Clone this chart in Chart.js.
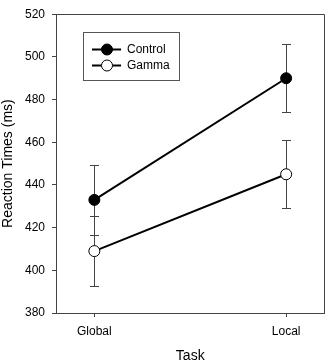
<!DOCTYPE html>
<html>
<head>
<meta charset="utf-8">
<script src="https://cdn.jsdelivr.net/npm/chart.js@4"></script>
<style>
html,body{margin:0;padding:0;background:#fff;}
#wrap{width:331px;height:362px;position:relative;}
</style>
</head>
<body>
<div id="wrap"><canvas id="c" width="331" height="362"></canvas></div>
<script>
const categories = ['Global', 'Local'];
const seriesNames = ['Control', 'Gamma'];
const controlMeans = [433, 490];
const controlErr = [16.5, 16];
const gammaMeans = [409, 445];
const gammaErr = [16.5, 16];
const yMin = 380, yMax = 520, yStep = 20;

const FONT = 'Liberation Sans, Arial, sans-serif';

function pts(means){ return means.map((v,i)=>({x:i, y:v})); }

const errorBars = {
  id:'errorBars',
  beforeDatasetsDraw(chart){
    const ctx = chart.ctx, xs = chart.scales.x, ys = chart.scales.y;
    const sets = [[controlMeans, controlErr],[gammaMeans, gammaErr]];
    ctx.save();
    ctx.strokeStyle = '#444';
    ctx.lineWidth = 1;
    sets.forEach(([m,e])=>{
      m.forEach((v,i)=>{
        const x = Math.round(xs.getPixelForValue(i)) + 0.5;
        const yt = Math.round(ys.getPixelForValue(v+e[i])) + 0.5;
        const yb = Math.round(ys.getPixelForValue(v-e[i])) + 0.5;
        ctx.beginPath();
        ctx.moveTo(x, yt); ctx.lineTo(x, yb);
        ctx.moveTo(x-4.5, yt); ctx.lineTo(x+4.5, yt);
        ctx.moveTo(x-4.5, yb); ctx.lineTo(x+4.5, yb);
        ctx.stroke();
      });
    });
    ctx.restore();
  }
};

const frameAndLegend = {
  id:'frameAndLegend',
  afterDraw(chart){
    const ctx = chart.ctx, a = chart.chartArea;
    ctx.save();
    ctx.strokeStyle = '#444';
    ctx.lineWidth = 1;
    ctx.beginPath();
    ctx.moveTo(Math.round(a.left)+0.5, Math.round(a.top)+0.5);
    ctx.lineTo(Math.round(a.right)-0.5, Math.round(a.top)+0.5);
    ctx.lineTo(Math.round(a.right)-0.5, Math.round(a.bottom)+0.5);
    ctx.stroke();

    // legend
    const lx = Math.round(a.left) + 27, ly = Math.round(a.top) + 18;
    const lw = 96, lh = 48;
    ctx.strokeStyle = '#555';
    ctx.strokeRect(lx+0.5, ly+0.5, lw, lh);
    const rows = [ly+17.5, ly+33.5];
    ctx.font = '12px ' + FONT;
    ctx.textBaseline = 'middle';
    ctx.textAlign = 'left';
    seriesNames.forEach((name, i)=>{
      const y = rows[i];
      ctx.strokeStyle = '#000';
      ctx.lineWidth = 2;
      ctx.beginPath();
      ctx.moveTo(lx+9, y); ctx.lineTo(lx+38, y);
      ctx.stroke();
      ctx.beginPath();
      ctx.arc(lx+24, y, 5.5, 0, Math.PI*2);
      ctx.fillStyle = i===0 ? '#000' : '#fff';
      ctx.fill();
      ctx.lineWidth = 1;
      ctx.stroke();
      ctx.fillStyle = '#000';
      ctx.fillText(name, lx+44, y+0.5);
    });
    ctx.restore();
  }
};

new Chart(document.getElementById('c'), {
  type:'line',
  data:{
    datasets:[
      {label:seriesNames[0], data:pts(controlMeans), borderColor:'#000', borderWidth:2,
       pointRadius:5.5, pointBackgroundColor:'#000', pointBorderColor:'#000', pointBorderWidth:1},
      {label:seriesNames[1], data:pts(gammaMeans), borderColor:'#000', borderWidth:2,
       pointRadius:5.5, pointBackgroundColor:'#fff', pointBorderColor:'#000', pointBorderWidth:1}
    ]
  },
  options:{
    responsive:false,
    animation:false,
    layout:{padding:{top:6, right:3, left:0, bottom:0}},
    plugins:{legend:{display:false}, tooltip:{enabled:false}},
    scales:{
      x:{
        type:'linear', min:-0.2, max:1.2,
        afterBuildTicks(s){ s.ticks = categories.map((c,i)=>({value:i})); },
        afterFit(s){ s.height = 49; },
        ticks:{ callback:(v)=>categories[v] ?? '', font:{family:FONT, size:12}, color:'#000', padding:7, maxRotation:0 },
        grid:{ drawOnChartArea:false, tickLength:4, color:'#444' },
        border:{ color:'#444', width:1 },
        title:{ display:true, text:'Task', font:{family:FONT, size:14}, color:'#000', padding:{top:6, bottom:-3} }
      },
      y:{
        min:yMin, max:yMax,
        afterFit(s){ s.width = 56; },
        ticks:{ stepSize:yStep, font:{family:FONT, size:12}, color:'#000', padding:7 },
        grid:{ drawOnChartArea:false, tickLength:4, color:'#444' },
        border:{ color:'#444', width:1 },
        title:{ display:true, text:'Reaction Times (ms)', font:{family:FONT, size:14}, color:'#000', padding:{top:0, bottom:0} }
      }
    }
  },
  plugins:[errorBars, frameAndLegend]
});
</script>
</body>
</html>
